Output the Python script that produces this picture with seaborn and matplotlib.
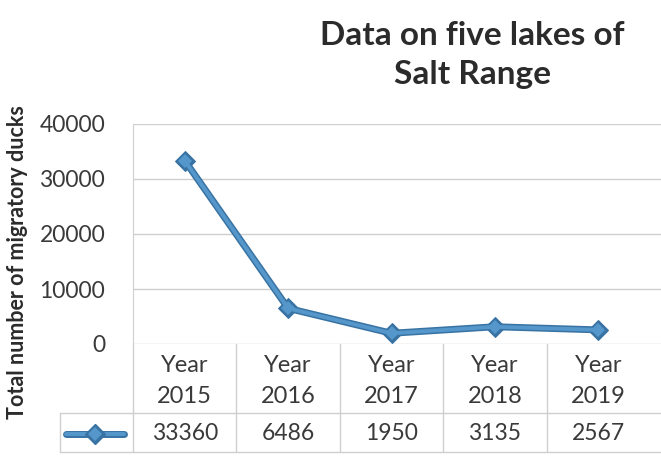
"""Migratory ducks on five lakes of Salt Range, line chart with data table"""

import matplotlib
matplotlib.use('Agg')
import matplotlib.pyplot as plt
from matplotlib.lines import Line2D
import matplotlib.transforms as mtransforms
import pandas as pd
import seaborn as sns

# chart data
years = ['Year\n2015', 'Year\n2016', 'Year\n2017', 'Year\n2018', 'Year\n2019']
ducks = [33360, 6486, 1950, 3135, 2567]
y_ticks = [0, 10000, 20000, 30000, 40000]

W, H = 661, 457
sns.set_style('white')
plt.rcParams['font.family'] = ['Lato', 'DejaVu Sans']

fig = plt.figure(figsize=(W / 100, H / 100), dpi=100)
# axes in pixel terms: left 133, top 124, bottom 344, right edge of image
left, top, bottom = 133, 124, 344
ax = fig.add_axes([left / W, 1 - bottom / H, 1 - left / W, (bottom - top) / H])

df = pd.DataFrame({'pos': range(len(years)), 'ducks': ducks})
line_blue = '#5597cb'
edge_blue = '#3873a3'
# darker underlay gives the outlined look of the original series
sns.lineplot(data=df, x='pos', y='ducks', ax=ax, color=edge_blue,
             linewidth=5.0, marker='D', markersize=10,
             markeredgecolor=edge_blue, markerfacecolor=edge_blue, zorder=3)
sns.lineplot(data=df, x='pos', y='ducks', ax=ax, color=line_blue,
             linewidth=2.8, marker='D', markersize=7.5,
             markeredgewidth=0, markerfacecolor=line_blue, zorder=4)

col_w = (650 - left) / len(years)
ax.set_xlim(-0.5, -0.5 + (W - left) / col_w)
ax.set_ylim(0, 40000)
ax.set_yticks(y_ticks)
ax.set_yticklabels([str(t) for t in y_ticks], fontsize=16.5, color='#3a3a3a')
ax.tick_params(axis='y', length=0, pad=20)
ax.set_xticks([])
ax.set_xlabel('')
ax.set_ylabel('')
grid_c = '#cfcfcf'
ax.grid(axis='y', color=grid_c, linewidth=1.0)
for side in ['top', 'right', 'bottom']:
    ax.spines[side].set_visible(False)
ax.spines['left'].set_color(grid_c)

# data table under the plot
trans = mtransforms.blended_transform_factory(ax.transData, fig.transFigure)
row1, row2, row3 = 1 - 344 / H, 1 - 413 / H, 1 - 452 / H
for i, (label, val) in enumerate(zip(years, ducks)):
    ax.text(i, 1 - 381 / H, label, transform=trans, ha='center', va='center',
            fontsize=17, color='#3a3a3a', linespacing=1.55, clip_on=False)
    ax.text(i, 1 - 434 / H, str(val), transform=trans, ha='center',
            va='center', fontsize=16.5, color='#3a3a3a', clip_on=False)
for i in range(len(years)):
    fig.add_artist(Line2D([i - 0.5, i - 0.5], [row3, row1], transform=trans,
                          color=grid_c, linewidth=1.0))
for yy in [row2, row3]:
    fig.add_artist(Line2D([60 / W, 1], [yy, yy], color=grid_c, linewidth=1.0))
fig.add_artist(Line2D([60 / W, 60 / W], [row3, row2], color=grid_c,
                      linewidth=1.0))

# legend key in the table
key_y = 1 - 434 / H
fig.add_artist(Line2D([66 / W, 124 / W], [key_y, key_y], color=edge_blue,
                      linewidth=5.0))
fig.add_artist(Line2D([66 / W, 124 / W], [key_y, key_y], color=line_blue,
                      linewidth=2.8))
fig.add_artist(Line2D([95 / W], [key_y], marker='D', markersize=10,
                      color=edge_blue, linestyle='none'))
fig.add_artist(Line2D([95 / W], [key_y], marker='D', markersize=7.5,
                      markeredgewidth=0, color=line_blue, linestyle='none'))

fig.text(472 / W, 1 - 55 / H, 'Data on five lakes of\nSalt Range',
         ha='center', va='center', fontsize=24, fontweight='bold',
         color='#2b2b2b', linespacing=1.45)
fig.text(18 / W, 1 - 262 / H, 'Total number of migratory ducks',
         rotation=90, ha='center', va='center', fontsize=15.5,
         fontweight='bold', color='#2b2b2b')

fig.savefig('out.png', dpi=100)
